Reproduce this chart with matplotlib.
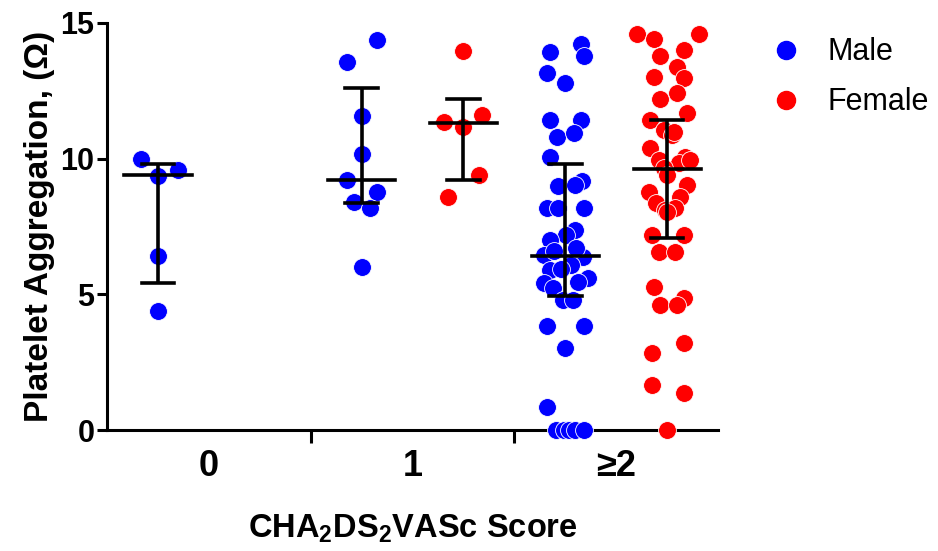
import numpy as np
import matplotlib
matplotlib.use("Agg")
import matplotlib.pyplot as plt
from matplotlib.lines import Line2D

plt.rcParams['font.family'] = ['Liberation Sans', 'DejaVu Sans']
plt.rcParams['mathtext.fontset'] = 'custom'
plt.rcParams['mathtext.rm'] = 'Liberation Sans:bold'
plt.rcParams['mathtext.default'] = 'rm'

# categories of the score
categories = ['0', '1', '\u22652']

# male points: (category, jitter, value)
male_cat = [0]*5 + [1]*9 + [2]*41
male_jit = [-0.085, 0.10, 0.0, 0.0, 0.0,
            0.077, -0.073, 0.0, 0.0, -0.073, 0.077, -0.037, 0.041, 0.0,
            -0.074, 0.077, 0.093, -0.09, 0.0, -0.074, 0.077, -0.041, 0.041, -0.074,
            0.08, -0.037, 0.048, -0.09, -0.037, 0.093, 0.048, 0.003, -0.074, -0.103,
            0.085, 0.028, -0.074, 0.11, -0.103, 0.061, -0.062, -0.013, 0.036, -0.09,
            0.093, 0.0, -0.09, -0.045, -0.005, 0.02, 0.05, 0.09,
            -0.02, -0.055, 0.052]
male_val = [10.0, 9.6, 9.35, 6.4, 4.4,
            14.37, 13.58, 11.57, 10.17, 9.21, 8.78, 8.42, 8.17, 6.02,
            13.94, 14.23, 13.79, 13.17, 12.8, 11.43, 11.43, 10.79, 10.94, 10.07,
            9.19, 8.99, 9.03, 8.17, 8.17, 8.17, 7.37, 7.19, 7.0, 6.45,
            6.39, 6.08, 5.9, 5.59, 5.41, 5.47, 5.22, 4.79, 4.79, 3.83,
            3.83, 3.01, 0.86, 0.0, 0.0, 0.0, 0.0, 0.0,
            5.95, 6.6, 6.7]

# female points
female_cat = [1]*6 + [2]*42
female_jit = [0.0, -0.094, 0.092, 0.0, 0.076, -0.075,
              -0.147, 0.156, -0.065, 0.082, -0.036, 0.049, -0.065, 0.082, 0.049, -0.036,
              0.098, -0.082, -0.016, 0.025, -0.082, -0.041, 0.09, 0.057, -0.016, 0.0,
              0.098, -0.09, 0.065, -0.057, -0.008, 0.041, -0.074, 0.082, -0.041, 0.041,
              -0.065, 0.082, -0.033, 0.049, 0.082, -0.074, -0.074, 0.082, 0.0,
              0.113, 0.033, 0.0]
female_val = [13.98, 11.36, 11.61, 11.18, 9.4, 8.6,
              14.6, 14.6, 14.4, 14.01, 13.79, 13.39, 13.02, 12.96, 12.41, 12.19,
              11.67, 11.43, 11.06, 10.87, 10.38, 9.95, 10.07, 9.83, 9.65, 9.4,
              9.03, 8.78, 8.6, 8.36, 8.11, 8.17, 7.19, 7.19, 6.57, 6.57,
              5.28, 4.85, 4.61, 4.61, 3.2, 2.83, 1.66, 1.35, 0.0,
              9.95, 11.0, 8.05]

# median and interquartile range per group
grp_cat = [0, 1, 1, 2, 2]
grp_side = [-1, -1, 1, -1, 1]
grp_med = [9.4, 9.2, 11.3, 6.43, 9.62]
grp_q1 = [5.4, 8.35, 9.2, 4.95, 7.07]
grp_q3 = [9.8, 12.6, 12.2, 9.8, 11.43]

off = 0.25
blue = '#0000ff'
red = '#ff0000'

fig = plt.figure(figsize=(9.38, 5.51), dpi=100)
ax = fig.add_axes([0.1141, 0.2196, 0.6514, 0.7387])

mx = np.array(male_cat) - off + np.array(male_jit)
fx = np.array(female_cat) + off + np.array(female_jit)
ax.scatter(mx, male_val, s=165, color=blue, edgecolor='white', linewidth=0.6,
           zorder=3, clip_on=False)
ax.scatter(fx, female_val, s=165, color=red, edgecolor='white', linewidth=0.6,
           zorder=3, clip_on=False)

for c, sd, m, lo, hi in zip(grp_cat, grp_side, grp_med, grp_q1, grp_q3):
    x = c + sd * off
    ax.plot([x, x], [lo, hi], color='black', lw=2.6, zorder=4, solid_capstyle='butt')
    ax.plot([x - 0.165, x + 0.165], [m, m], color='black', lw=2.6, zorder=4)
    ax.plot([x - 0.08, x + 0.08], [lo, lo], color='black', lw=2.6, zorder=4)
    ax.plot([x - 0.08, x + 0.08], [hi, hi], color='black', lw=2.6, zorder=4)

ax.set_xlim(-0.5, 2.5)
ax.set_ylim(0, 15)
ax.spines['top'].set_visible(False)
ax.spines['right'].set_visible(False)
ax.spines['left'].set_linewidth(2.2)
ax.spines['bottom'].set_linewidth(2.2)
ax.spines['bottom'].set_zorder(2)

ax.set_yticks([0, 5, 10, 15])
ax.tick_params(axis='y', length=7, width=2.2, pad=2, labelsize=22)
for t in ax.get_yticklabels():
    t.set_fontweight('bold')

ax.set_xticks([0, 1, 2])
ax.set_xticklabels(categories, fontsize=26, fontweight='bold')
ax.tick_params(axis='x', length=0, pad=14)
ax.set_xticks([0.5, 1.5], minor=True)
ax.tick_params(axis='x', which='minor', length=9, width=2.2, direction='out')

ax.set_ylabel('Platelet Aggregation, (\u03a9)', fontsize=24, fontweight='bold', labelpad=4)
ax.set_xlabel('CHA$_2$DS$_2$VASc Score', fontsize=23.5, fontweight='bold', labelpad=20)

handles = [Line2D([], [], marker='o', ls='', color=blue, markersize=13),
           Line2D([], [], marker='o', ls='', color=red, markersize=13)]
fig.legend(handles, ['Male', 'Female'], loc='upper left', bbox_to_anchor=(0.776, 0.982),
           frameon=False, fontsize=22, handletextpad=0.37, labelspacing=0.65)

fig.savefig('out.png', dpi=100)
